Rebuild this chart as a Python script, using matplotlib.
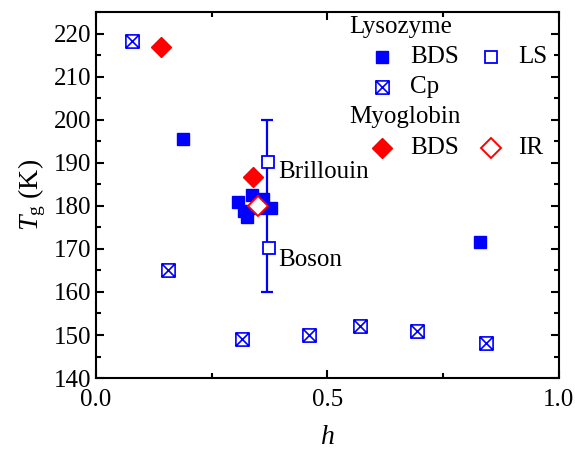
import matplotlib
matplotlib.use("Agg")
import matplotlib.pyplot as plt
from matplotlib.path import Path
from matplotlib.ticker import MultipleLocator

plt.rcParams["font.family"] = "Liberation Serif"
plt.rcParams["mathtext.fontset"] = "custom"
plt.rcParams["mathtext.rm"] = "Liberation Serif"
plt.rcParams["mathtext.it"] = "Liberation Serif:italic"

# Lysozyme BDS (filled squares)
lys_bds_h = [0.188, 0.307, 0.336, 0.32, 0.327, 0.35, 0.36, 0.378, 0.83]
lys_bds_T = [195.5, 180.8, 182.6, 178.8, 177.3, 179.5, 181.5, 179.4, 171.5]
# Lysozyme LS (open squares)
lys_ls_h = [0.371, 0.373]
lys_ls_T = [190.2, 170.1]
# Lysozyme Cp (crossed squares)
lys_cp_h = [0.078, 0.156, 0.315, 0.461, 0.570, 0.694, 0.842]
lys_cp_T = [218.2, 165.0, 149.0, 150.0, 152.0, 151.0, 148.1]
# Myoglobin BDS (filled diamonds) and IR (open diamond)
myo_bds_h = [0.14, 0.339]
myo_bds_T = [217.0, 186.7]
myo_ir_h = [0.35]
myo_ir_T = [180.0]
# error bar
err_h, err_T, err_dT = 0.37, 180.0, 20.0

blue = "#0000ff"
red = "#ff0000"

boxx = Path([(-0.5, -0.5), (0.5, -0.5), (0.5, 0.5), (-0.5, 0.5), (-0.5, -0.5),
             (-0.5, -0.5), (0.5, 0.5), (-0.5, 0.5), (0.5, -0.5)],
            [Path.MOVETO, Path.LINETO, Path.LINETO, Path.LINETO, Path.CLOSEPOLY,
             Path.MOVETO, Path.LINETO, Path.MOVETO, Path.LINETO])

fig = plt.figure(figsize=(5.75, 4.49), dpi=100)
ax = fig.add_axes([0.167, 0.158, 0.805, 0.815])

ax.errorbar([err_h], [err_T], yerr=[err_dT], color=blue, lw=1.6, capsize=4,
            capthick=1.6, marker="none", zorder=2)
ax.plot(lys_bds_h, lys_bds_T, "s", color=blue, ms=9, mec=blue, zorder=3)
ax.plot(lys_ls_h, lys_ls_T, "s", mfc="white", mec=blue, ms=9, mew=1.3, zorder=4)
ax.plot(lys_cp_h, lys_cp_T, marker=boxx, ls="none", mfc="none", mec=blue, ms=9.5, mew=1.2, zorder=3)
ax.plot(myo_bds_h, myo_bds_T, "D", color=red, ms=10, zorder=4)
ax.plot(myo_ir_h, myo_ir_T, "D", mfc="white", mec=red, ms=10, mew=1.4, zorder=5)

ax.text(0.393, 187.9, "Brillouin", fontsize=18, va="center")
ax.text(0.393, 167.4, "Boson", fontsize=18, va="center")

# legend built by hand
def fx(px):
    return (px - 96) / 463

def fy(py):
    return (378 - py) / 366

tk = dict(transform=ax.transAxes, fontsize=18, va="center")
mk = dict(transform=ax.transAxes, ls="none", clip_on=False)
ax.text(fx(349), fy(27), "Lysozyme", **tk)
ax.plot([fx(382)], [fy(57)], "s", color=blue, ms=9, **mk)
ax.text(fx(410), fy(57), "BDS", **tk)
ax.plot([fx(491)], [fy(57)], "s", mfc="white", mec=blue, ms=9, mew=1.3, **mk)
ax.text(fx(518), fy(57), "LS", **tk)
ax.plot([fx(382)], [fy(87)], marker=boxx, mfc="none", mec=blue, ms=9.5, mew=1.2, **mk)
ax.text(fx(410), fy(87), "Cp", **tk)
ax.text(fx(349), fy(117), "Myoglobin", **tk)
ax.plot([fx(382)], [fy(148)], "D", color=red, ms=10, **mk)
ax.text(fx(410), fy(148), "BDS", **tk)
ax.plot([fx(491)], [fy(148)], "D", mfc="white", mec=red, ms=10, mew=1.4, **mk)
ax.text(fx(518), fy(148), "IR", **tk)

ax.set_xlim(0, 1)
ax.set_ylim(140, 225)
ax.xaxis.set_minor_locator(MultipleLocator(0.25))
ax.yaxis.set_minor_locator(MultipleLocator(5))
ax.set_xticks([0, 0.5, 1.0])
ax.set_xticklabels(["0.0", "0.5", "1.0"])
ax.set_yticks(range(140, 221, 10))
ax.tick_params(which="both", direction="in", top=True, right=True, width=1.5, labelsize=18)
ax.tick_params(which="major", length=6)
ax.tick_params(which="minor", length=3.5)
ax.tick_params(axis="x", pad=8)
for s in ax.spines.values():
    s.set_linewidth(1.5)

ax.set_xlabel("$h$", fontsize=20, labelpad=10)
ax.set_ylabel("$T_{\\rm g}$ (K)", fontsize=20, labelpad=4)

fig.savefig("out.png", dpi=100)
